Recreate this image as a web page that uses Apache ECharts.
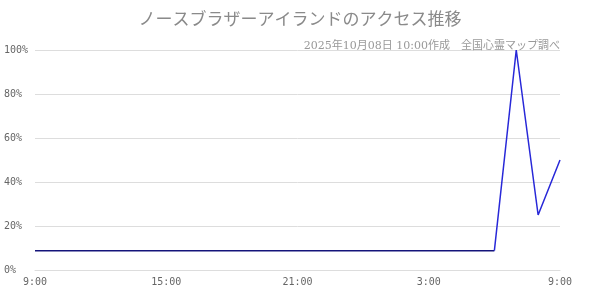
<!DOCTYPE html>
<html><head><meta charset="utf-8">
<script src="https://cdn.jsdelivr.net/npm/echarts@6/dist/echarts.min.js"></script>
<style>html,body{margin:0;padding:0;background:#fff}#c{width:600px;height:300px}</style>
</head><body><div id="c"></div>
<script>
const titleText = 'ノースブラザーアイランドのアクセス推移';
const subText = '2025年10月08日 10:00作成　全国心霊マップ調べ';
const hours = ['9:00','10:00','11:00','12:00','13:00','14:00','15:00','16:00','17:00','18:00','19:00','20:00','21:00','22:00','23:00','0:00','1:00','2:00','3:00','4:00','5:00','6:00','7:00','8:00','9:00'];
const baseValues = [8.8,8.8,8.8,8.8,8.8,8.8,8.8,8.8,8.8,8.8,8.8,8.8,8.8,8.8,8.8,8.8,8.8,8.8,8.8,8.8,8.8,8.8];
const recentValues = [null,null,null,null,null,null,null,null,null,null,null,null,null,null,null,null,null,null,null,null,null,8.8,100,25,50];
const yTicks = [0,20,40,60,80,100];

const chart = echarts.init(document.getElementById('c'), null, {renderer:'canvas'});
const labelFont = '"DejaVu Sans Mono", monospace';
chart.setOption({
  animation:false,
  backgroundColor:'#fff',
  title:[
    {text:titleText, left:'center', top:7, textStyle:{fontFamily:'"DejaVu Serif","Noto Sans CJK JP",serif', fontSize:17, fontWeight:'normal', color:'#8a8a8a'}},
    {text:subText, right:35, top:36, textStyle:{fontFamily:'"DejaVu Serif","Noto Sans CJK JP",serif', fontSize:11, fontWeight:'normal', color:'#999'}}
  ],
  grid:{left:35, right:40, top:50, bottom:30},
  xAxis:{type:'category', data:hours, boundaryGap:false,
    axisLine:{show:true, lineStyle:{color:'#ddd'}}, axisTick:{show:false},
    axisLabel:{interval:5, color:'#666', fontFamily:labelFont, fontSize:10, margin:7},
    splitLine:{show:false}},
  yAxis:{type:'value', min:yTicks[0], max:yTicks[yTicks.length-1], interval:20,
    axisLine:{show:false}, axisTick:{show:false},
    axisLabel:{formatter:'{value}%', align:'left', margin:31, color:'#666', fontFamily:labelFont, fontSize:10},
    splitLine:{lineStyle:{color:'#ddd'}}},
  series:[
    {type:'line', data:baseValues, symbol:'none', lineStyle:{color:'#14147a', width:1.5}},
    {type:'line', data:recentValues, symbol:'none', lineStyle:{color:'#2828d8', width:1.5}}
  ]
});
</script></body></html>
